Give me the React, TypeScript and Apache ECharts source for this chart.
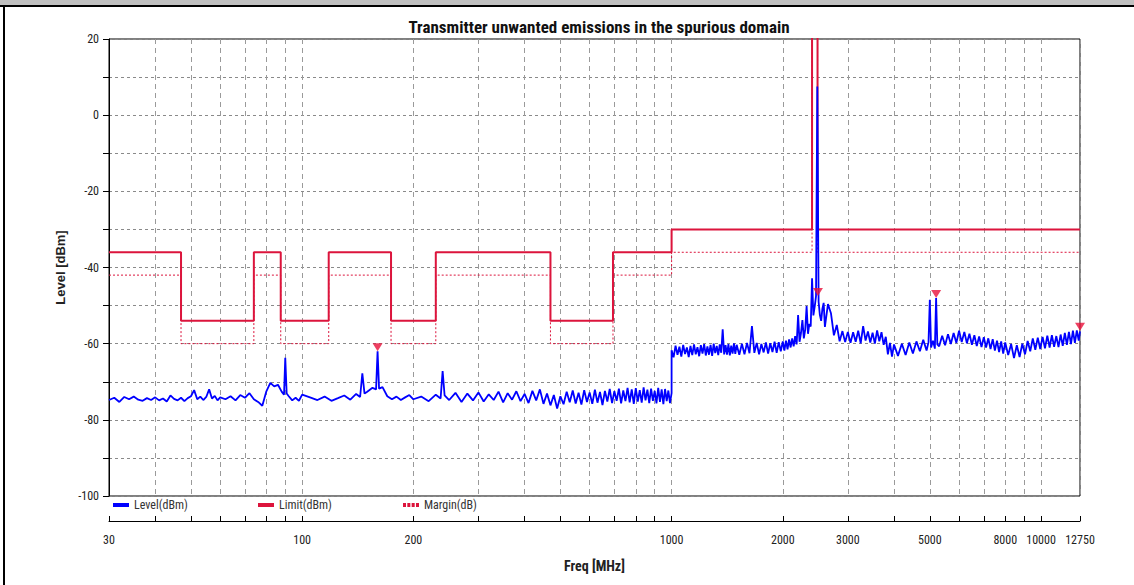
import React, { useEffect, useRef } from "react";
import * as echarts from "echarts";

const TITLE = "Transmitter unwanted emissions in the spurious domain";
const Y_NAME = "Level [dBm]";
const X_NAME = "Freq [MHz]";

const X_TICKS = [30, 40, 50, 60, 70, 80, 90, 100, 200, 300, 400, 500, 600, 700, 800, 900, 1000, 2000, 3000, 4000, 5000, 6000, 7000, 8000, 9000, 10000, 12750];
const X_LABELS = [30, 100, 200, 1000, 2000, 3000, 5000, 8000, 10000, 12750];

// limit mask: band edges (MHz) and level in each band (dBm)
const LIMIT_EDGES = [30, 47, 74, 87.5, 118, 174, 230, 470, 694, 1000, 2400, 2483.5, 12750];
const LIMIT_LEVELS = [-36, -54, -36, -54, -36, -54, -36, -54, -36, -30, 40, -30];
const MARGIN_LEVELS = [-42, -60, -42, -60, -42, -60, -42, -60, -42, -36, 34, -36];

// peak markers [MHz, dBm]
const MARKERS = [[160, -62.0], [2490, -47.5], [5200, -48.0], [12750, -56.6]];

// measured level trace [MHz, dBm]
const LEVEL_30_60 = [[30, -74.8], [31, -74.2], [32, -75.3], [33, -74.0], [34, -74.6], [35, -73.9], [36, -74.7], [37, -75.0], [38, -74.3], [39, -74.8], [40, -74.1], [41, -74.9], [42, -74.4], [43, -75.2], [44, -73.6], [45, -74.5], [46, -74.9], [47, -74.2], [48, -75.1], [49, -74.3], [50, -73.8], [51, -72.2], [52, -74.6], [53, -73.9], [54, -74.8], [55, -74.0], [56, -72.0], [57, -74.4], [58, -73.7], [59, -74.9], [60, -74.1]];
const LEVEL_62_100 = [[62, -74.6], [64, -73.8], [66, -74.9], [68, -73.5], [70, -74.2], [72, -73.0], [74, -74.6], [76, -75.3], [78, -76.3], [80, -72.5], [82, -70.3], [84, -71.2], [86, -70.8], [88, -72.6], [89.3, -73.4], [90, -63.7], [90.8, -73.1], [92, -73.8], [94, -74.9], [96, -74.2], [98, -75.0], [100, -73.4]];
const LEVEL_105_200 = [[105, -74.1], [110, -74.8], [115, -73.9], [120, -75.0], [125, -74.3], [130, -73.6], [135, -74.7], [140, -73.2], [143.5, -74.0], [145.5, -67.8], [147.5, -73.1], [150, -72.6], [155, -71.6], [158.5, -72.0], [160, -62.0], [161.5, -71.8], [165, -71.4], [170, -73.8], [175, -74.6], [180, -73.9], [185, -74.8], [190, -74.1], [195, -73.5], [200, -74.6]];
const LEVEL_210_400 = [[210, -73.9], [220, -75.1], [230, -73.4], [237, -74.4], [240, -67.2], [243, -73.6], [250, -74.8], [260, -72.9], [270, -75.3], [280, -73.1], [290, -74.9], [300, -72.8], [310, -75.2], [320, -73.3], [330, -74.8], [340, -72.6], [350, -75.4], [360, -73.0], [370, -74.7], [380, -72.5], [390, -75.1], [400, -73.2]];
const LEVEL_410_1000 = [[410, -75.6], [420, -72.4], [430, -74.9], [440, -72.0], [450, -75.8], [460, -73.1], [470, -76.2], [480, -73.5], [490, -77.0], [500, -73.8], [510, -75.9], [520, -72.6], [530, -75.4], [540, -72.3], [550, -75.7], [560, -72.9], [570, -76.0], [580, -72.2], [590, -75.3], [600, -72.8], [610, -75.8], [620, -72.1], [630, -75.5], [640, -72.7], [650, -76.1], [660, -72.4], [670, -75.2], [680, -71.9], [690, -75.6], [700, -72.5], [710, -75.0], [720, -71.8], [730, -75.7], [740, -72.3], [750, -75.1], [760, -71.6], [770, -75.4], [780, -72.0], [790, -75.8], [800, -71.7], [810, -75.2], [820, -72.2], [830, -75.5], [840, -71.5], [850, -74.9], [860, -72.1], [870, -75.6], [880, -71.8], [890, -75.0], [900, -72.4], [910, -75.7], [920, -71.6], [930, -75.3], [940, -72.0], [950, -75.9], [960, -71.9], [970, -75.1], [980, -72.3], [990, -75.6], [1000, -73.0]];
const LEVEL_1000_1500 = [[1000, -61.7], [1012.5, -63.6], [1025, -60.5], [1037.5, -62.9], [1050, -60.8], [1062.5, -63.4], [1075, -60.3], [1087.5, -62.7], [1100, -61.0], [1112.5, -63.5], [1125, -60.6], [1137.5, -63.0], [1150, -60.2], [1162.5, -62.8], [1175, -60.9], [1187.5, -63.3], [1200, -60.4], [1212.5, -62.6], [1225, -60.1], [1237.5, -63.1], [1250, -60.7], [1262.5, -62.9], [1275, -60.3], [1287.5, -63.2], [1300, -60.0], [1312.5, -62.5], [1325, -60.6], [1337.5, -63.0], [1350, -60.2], [1362.5, -62.4], [1375, -56.2], [1387.5, -62.8], [1400, -60.4], [1412.5, -62.9], [1425, -60.1], [1437.5, -63.1], [1450, -60.5], [1462.5, -62.6], [1475, -59.9], [1487.5, -62.7], [1500, -60.3]];
const LEVEL_1525_2000 = [[1525, -62.9], [1550, -60.0], [1575, -62.8], [1600, -59.8], [1625, -62.5], [1650, -55.4], [1675, -62.4], [1700, -59.8], [1725, -62.8], [1750, -60.1], [1775, -62.3], [1800, -59.7], [1825, -62.6], [1850, -59.9], [1875, -62.2], [1900, -59.5], [1925, -62.4], [1950, -59.6], [1975, -62.0], [2000, -59.4]];
const LEVEL_2020_2600 = [[2020, -61.8], [2040, -59.2], [2060, -61.5], [2080, -58.9], [2100, -61.0], [2120, -58.6], [2140, -60.7], [2160, -58.0], [2180, -60.2], [2200, -52.5], [2220, -59.5], [2240, -57.2], [2260, -53.8], [2280, -58.6], [2300, -56.3], [2320, -50.1], [2340, -57.4], [2360, -54.8], [2380, -55.5], [2400, -42.8], [2420, -52.6], [2440, -50.3], [2460, -47.5], [2480, 7.5], [2500, -49.0], [2520, -52.5], [2540, -54.0], [2560, -50.8], [2580, -49.3], [2600, -55.6]];
const LEVEL_2650_4000 = [[2650, -49.6], [2700, -52.0], [2750, -57.8], [2800, -55.1], [2850, -59.4], [2900, -56.7], [2950, -59.6], [3000, -56.9], [3050, -59.8], [3100, -57.0], [3150, -59.5], [3200, -56.6], [3250, -59.9], [3300, -55.4], [3350, -59.2], [3400, -56.8], [3450, -59.7], [3500, -57.1], [3550, -60.0], [3600, -56.5], [3650, -59.4], [3700, -57.0], [3750, -60.3], [3800, -58.2], [3850, -62.8], [3900, -59.8], [3950, -63.4], [4000, -60.2]];
const LEVEL_4100_8000 = [[4100, -63.2], [4200, -60.0], [4300, -63.0], [4400, -59.7], [4500, -62.6], [4600, -59.4], [4700, -62.0], [4800, -59.0], [4900, -61.8], [4960, -59.6], [5000, -48.5], [5040, -61.0], [5100, -59.2], [5160, -61.3], [5200, -48.0], [5240, -60.2], [5300, -60.7], [5400, -57.9], [5500, -60.4], [5600, -57.5], [5700, -60.1], [5800, -57.2], [5900, -59.8], [6000, -56.6], [6100, -59.6], [6200, -56.9], [6300, -59.9], [6400, -57.4], [6500, -60.3], [6600, -57.8], [6700, -60.6], [6800, -58.1], [6900, -60.9], [7000, -58.3], [7100, -61.0], [7200, -58.6], [7300, -61.4], [7400, -58.8], [7500, -61.8], [7600, -59.2], [7700, -62.2], [7800, -59.4], [7900, -62.6], [8000, -59.7]];
const LEVEL_8150_12750 = [[8150, -63.0], [8300, -60.1], [8450, -63.8], [8600, -60.4], [8750, -63.5], [8900, -60.0], [9050, -62.8], [9200, -59.3], [9350, -62.0], [9500, -58.6], [9650, -61.6], [9800, -58.4], [9950, -61.4], [10100, -58.2], [10250, -61.2], [10400, -57.9], [10550, -61.0], [10700, -57.8], [10850, -60.8], [11000, -58.0], [11150, -60.9], [11300, -57.6], [11450, -60.6], [11600, -57.2], [11750, -60.3], [11900, -56.9], [12050, -60.1], [12200, -56.6], [12350, -59.8], [12500, -56.5], [12650, -59.2], [12750, -56.8]];

const NARROW = "'Liberation Sans Narrow', 'Arial Narrow', 'Roboto Condensed', 'Liberation Sans', sans-serif";
const SANS = "'Liberation Sans', Arial, sans-serif";
const RED = "#dc143c";
const BLUE = "#0000ff";

function stepData(edges: number[], levels: number[]) {
  const d: number[][] = [];
  for (let i = 0; i < levels.length; i++) {
    d.push([edges[i], levels[i]], [edges[i + 1], levels[i]]);
  }
  return d;
}

export default function App() {
  const ref = useRef<HTMLDivElement>(null);
  useEffect(() => {
    if (!ref.current) return;
    const chart = echarts.init(ref.current, undefined, { renderer: "svg" });
    const levelData = [
      ...LEVEL_30_60, ...LEVEL_62_100, ...LEVEL_105_200, ...LEVEL_210_400, ...LEVEL_410_1000,
      ...LEVEL_1000_1500, ...LEVEL_1525_2000, ...LEVEL_2020_2600, ...LEVEL_2650_4000,
      ...LEVEL_4100_8000, ...LEVEL_8150_12750,
    ];
    const legendText = { fontFamily: NARROW, fontSize: 12, color: "#333" };
    chart.setOption({
      animation: false,
      backgroundColor: "#fff",
      title: {
        text: TITLE,
        left: 594,
        top: 13,
        textAlign: "center",
        textStyle: { fontFamily: NARROW, fontWeight: "bold", fontSize: 17, color: "#111" },
      },
      graphic: [
        { type: "rect", shape: { x: 0, y: 0, width: 1134, height: 5 }, style: { fill: "#c0c0c0" }, silent: true },
        { type: "rect", shape: { x: 0, y: 5, width: 1134, height: 2 }, style: { fill: "#000" }, silent: true },
        { type: "rect", shape: { x: 3, y: 5, width: 2, height: 580 }, style: { fill: "#000" }, silent: true },
      ],
      legend: [
        {
          data: [{ name: "Level(dBm)", icon: "rect" }],
          left: 113, top: 499, padding: 0, itemWidth: 16, itemHeight: 4, selectedMode: false,
          itemStyle: { color: BLUE, borderWidth: 0 }, textStyle: legendText,
        },
        {
          data: [{ name: "Limit(dBm)", icon: "rect" }],
          left: 258, top: 499, padding: 0, itemWidth: 16, itemHeight: 4, selectedMode: false,
          itemStyle: { color: RED, borderWidth: 0 }, textStyle: legendText,
        },
        {
          data: [{ name: "Margin(dB)", icon: "path://M0,0h3v4h-3z M4.33,0h3v4h-3z M8.67,0h3v4h-3z M13,0h3v4h-3z" }],
          left: 403, top: 499, padding: 0, itemWidth: 16, itemHeight: 4, selectedMode: false,
          itemStyle: { color: RED, borderWidth: 0 }, textStyle: legendText,
        },
      ],
      grid: {
        left: 109, right: 54, top: 39, bottom: 89,
        show: true, borderColor: "#000", borderWidth: 1, backgroundColor: "transparent",
      },
      xAxis: {
        type: "log",
        logBase: 10,
        min: 30,
        max: 12750,
        offset: 25,
        axisLine: { show: true, onZero: false, lineStyle: { color: "#000", width: 1 } },
        axisTick: { show: true, inside: true, length: 5, customValues: X_TICKS, lineStyle: { color: "#000" } },
        axisLabel: {
          customValues: X_LABELS,
          formatter: (v: number) => String(Math.round(v)),
          margin: 13,
          fontFamily: NARROW,
          fontSize: 12,
          color: "#222",
        },
        splitLine: { show: true, lineStyle: { color: "#9a9a9a", type: [5, 4], width: 1 } },
        minorTick: { show: false },
        minorSplitLine: { show: false },
        name: X_NAME,
        nameLocation: "middle",
        nameGap: 38,
        nameTextStyle: { fontFamily: NARROW, fontWeight: "bold", fontSize: 14, color: "#222" },
      },
      yAxis: {
        type: "value",
        min: -100,
        max: 20,
        interval: 10,
        axisLine: { show: true, lineStyle: { color: "#000", width: 1 } },
        axisTick: { show: true, length: 6, lineStyle: { color: "#000" } },
        axisLabel: {
          formatter: (v: number) => (v % 20 === 0 ? String(v) : ""),
          margin: 10,
          fontFamily: NARROW,
          fontSize: 12,
          color: "#222",
        },
        splitLine: { show: true, lineStyle: { color: "#8a8a8a", type: [3, 3], width: 1 } },
        name: Y_NAME,
        nameLocation: "middle",
        nameGap: 41,
        nameTextStyle: { fontFamily: SANS, fontWeight: "bold", fontSize: 13, color: "#222" },
      },
      series: [
        {
          name: "Margin(dB)",
          type: "line",
          data: stepData(LIMIT_EDGES, MARGIN_LEVELS),
          symbol: "none",
          color: RED,
          lineStyle: { color: RED, width: 1, type: [2, 2] },
          silent: true,
          z: 2,
        },
        {
          name: "Limit(dBm)",
          type: "line",
          data: stepData(LIMIT_EDGES, LIMIT_LEVELS),
          symbol: "none",
          color: RED,
          lineStyle: { color: RED, width: 2 },
          silent: true,
          z: 3,
        },
        {
          name: "Level(dBm)",
          type: "line",
          data: levelData,
          symbol: "none",
          color: BLUE,
          lineStyle: { color: BLUE, width: 1.8 },
          silent: true,
          z: 4,
        },
        {
          name: "Markers",
          type: "scatter",
          data: MARKERS,
          symbol: "triangle",
          symbolRotate: 180,
          symbolSize: [10, 8],
          symbolOffset: [0, -4],
          itemStyle: { color: "#e8103a" },
          silent: true,
          z: 5,
        },
      ],
    });
    return () => chart.dispose();
  }, []);
  return (
    <div
      ref={ref}
      style={{ position: "absolute", left: 0, top: 0, width: 1134, height: 585 }}
    />
  );
}
